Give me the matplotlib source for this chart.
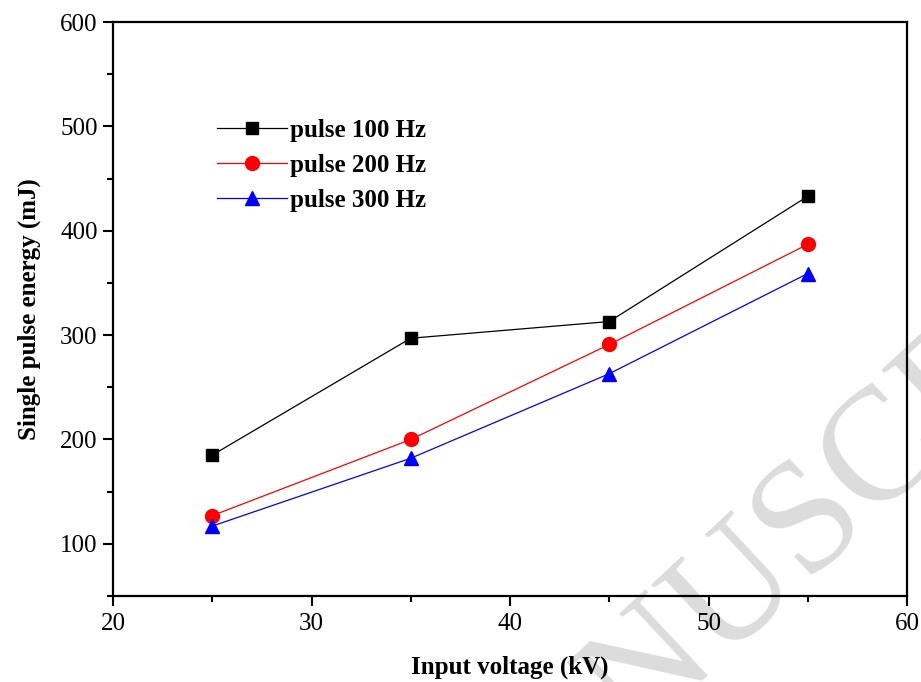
import matplotlib
matplotlib.use("Agg")
import matplotlib.pyplot as plt
from matplotlib.ticker import MultipleLocator

voltage = [25, 35, 45, 55]
e_100 = [185, 297, 313, 433]
e_200 = [127, 200, 291, 387]
e_300 = [117, 182, 263, 359]
labels = ["pulse 100 Hz", "pulse 200 Hz", "pulse 300 Hz"]

plt.rcParams['font.family'] = ['Liberation Serif', 'DejaVu Serif']

fig = plt.figure(figsize=(9.21, 6.82), dpi=100)
ax = fig.add_axes([0.1227, 0.1261, 0.8621, 0.8416])

# watermark
fig.text(0.4836, -0.3446, "MANUSCRIPT", rotation=43, rotation_mode='anchor',
         ha='left', va='baseline', fontsize=116, color='#dcdcdc', zorder=-5)

ax.patch.set_alpha(0)
ax.plot(voltage, e_100, color='black', lw=0.9, marker='s', ms=9, label=labels[0], zorder=3)
ax.plot(voltage, e_200, color='red', lw=0.9, marker='o', ms=10, label=labels[1], zorder=3)
ax.plot(voltage, e_300, color='blue', lw=0.9, marker='^', ms=10, label=labels[2], zorder=3)

ax.set_xlim(20, 60)
ax.set_ylim(50, 600)
ax.xaxis.set_major_locator(MultipleLocator(10))
ax.xaxis.set_minor_locator(MultipleLocator(5))
ax.yaxis.set_major_locator(MultipleLocator(100))
ax.yaxis.set_minor_locator(MultipleLocator(50))
ax.set_yticks([100, 200, 300, 400, 500, 600])

for s in ax.spines.values():
    s.set_linewidth(1.6)
ax.tick_params(which='major', direction='out', length=7, width=1.5, labelsize=18)
ax.tick_params(which='minor', direction='out', length=4.5, width=1.5)
ax.tick_params(axis='x', pad=5)
ax.tick_params(axis='y', pad=4)

ax.set_xlabel("Input voltage (kV)", fontsize=18, fontweight='bold', labelpad=15)
ax.set_ylabel("Single pulse energy (mJ)", fontsize=18, fontweight='bold', labelpad=14)

leg = ax.legend(loc='upper left', bbox_to_anchor=(0.103, 0.871), frameon=False,
                prop={'weight': 'bold', 'size': 18}, handlelength=2.8,
                handletextpad=0.1, labelspacing=0.48)

fig.savefig("out.png", dpi=100)
